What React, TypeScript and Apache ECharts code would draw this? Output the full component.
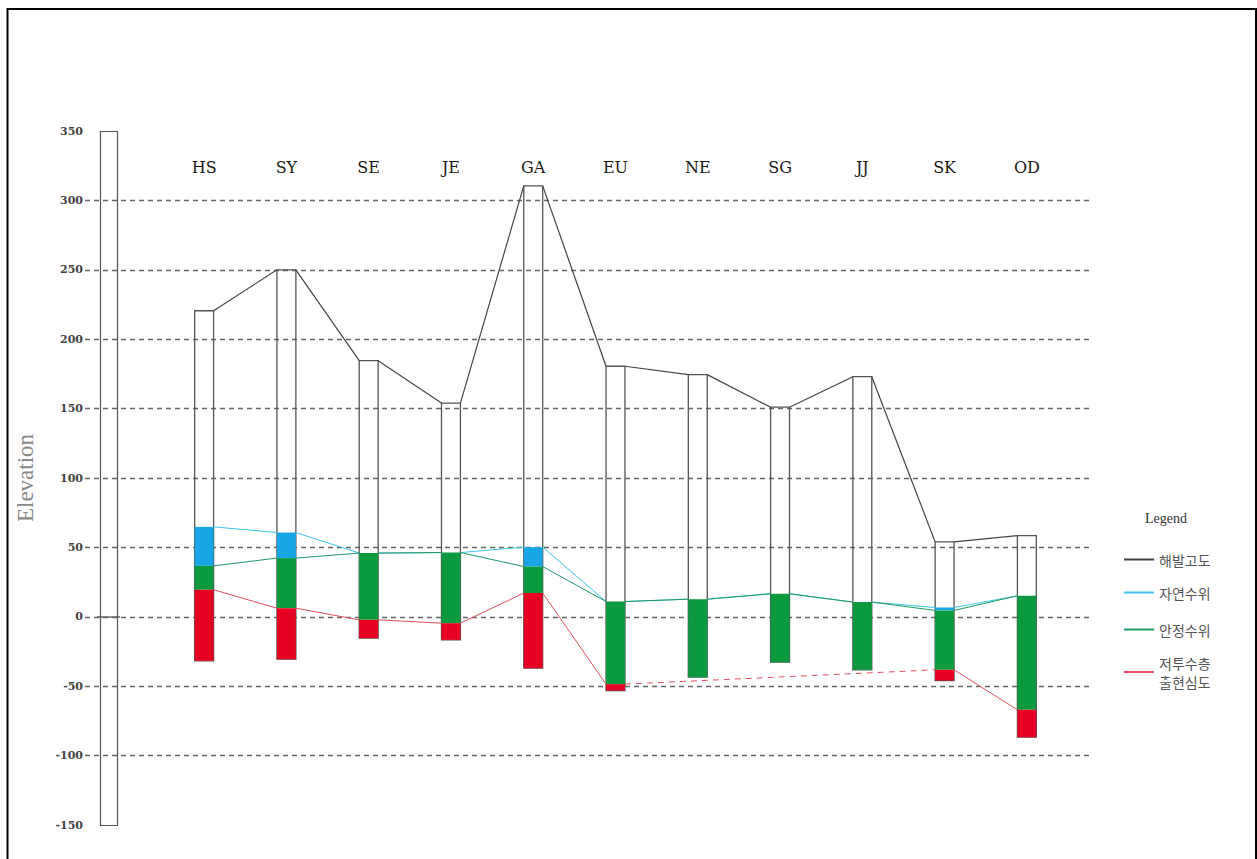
import React, { useEffect, useRef } from "react";
import * as echarts from "echarts";

const wells = ["HS", "SY", "SE", "JE", "GA", "EU", "NE", "SG", "JJ", "SK", "OD"];
// 해발고도 (ground elevation, top of each well column)
const elevation = [220.5, 250, 184.5, 154, 310.5, 180.5, 174.5, 151, 173, 54, 58.5];
// 자연수위 (natural water level)
const naturalLevel = [64.8, 60.7, 45.9, 46.3, 50.2, 11, 12.7, 16.6, 10.6, 6.7, 15.1];
// 안정수위 (stable water level)
const stableLevel = [36.7, 42.3, 45.9, 46.3, 36.2, 11, 12.7, 16.6, 10.6, 4.6, 15.1];
// 저투수층 출현심도 (depth where low-permeability layer appears)
const lowPermDepth: (number | null)[] = [19.5, 6.2, -2.2, -4.6, 17.1, -48.5, null, null, null, -38.2, -67];
// well bottom
const wellBottom = [-31.7, -30.5, -15.4, -16.6, -37, -53.1, -43.5, -32.7, -38.2, -45.9, -86.7];

const yMin = -150;
const yMax = 350;
const yInterval = 50;

const BLUE = "#18a6e6";
const GREEN = "#0b9a3e";
const RED = "#e60022";

const NAME_ELEV = "해발고도";
const NAME_NAT = "자연수위";
const NAME_STB = "안정수위";
const NAME_LOW = "저투수층\n출현심도";

export default function App() {
  const ref = useRef<HTMLDivElement>(null);
  useEffect(() => {
    document.body.style.margin = "0";
    const chart = echarts.init(ref.current!, null, { renderer: "svg" });

    const barFrac = 0.23;

    const lineSeries = (name: string, values: (number | null)[], color: string, width: number) => ({
      type: "custom",
      name,
      xAxisIndex: 1,
      yAxisIndex: 1,
      z: 4,
      itemStyle: { color },
      encode: { x: 0, y: 1 },
      data: values.map((v, i) => [i, v == null ? "-" : v]),
      renderItem: (params: any, api: any) => {
        const i = params.dataIndex;
        const v = values[i];
        if (v == null) return null;
        let j = i + 1;
        while (j < values.length && values[j] == null) j++;
        if (j >= values.length) return null;
        const w = api.size([1, 0])[0] * barFrac;
        const p1 = api.coord([i, v]);
        const p2 = api.coord([j, values[j] as number]);
        return {
          type: "line",
          shape: { x1: p1[0] + w / 2, y1: p1[1], x2: p2[0] - w / 2, y2: p2[1] },
          style: {
            stroke: color,
            lineWidth: width,
            lineDash: j > i + 1 ? [6, 5] : null,
          },
        };
      },
    });

    const legendBase = {
      orient: "vertical",
      left: 1124,
      padding: 0,
      icon: "rect",
      itemWidth: 30,
      itemHeight: 2,
      selectedMode: false,
      textStyle: {
        fontFamily: "Noto Sans CJK KR",
        fontSize: 14,
        color: "#555",
        lineHeight: 19,
      },
    };

    const option: any = {
      animation: false,
      backgroundColor: "#ffffff",
      grid: [
        { left: 85, right: 164, top: 131, bottom: 34 },
        { left: 163, right: 189, top: 131, bottom: 34 },
      ],
      xAxis: [
        { type: "value", gridIndex: 0, show: false, min: 0, max: 1 },
        {
          type: "category",
          gridIndex: 1,
          data: wells,
          position: "top",
          offset: -46,
          axisLine: { show: false },
          axisTick: { show: false },
          axisLabel: {
            margin: 2,
            fontFamily: "DejaVu Serif",
            fontSize: 16,
            color: "#1a1a1a",
          },
        },
      ],
      yAxis: [
        {
          type: "value",
          gridIndex: 0,
          min: yMin,
          max: yMax,
          interval: yInterval,
          name: "Elevation",
          nameLocation: "middle",
          nameGap: 48,
          nameTextStyle: { fontFamily: "Liberation Serif", fontSize: 23, color: "#888" },
          axisLine: { show: false },
          axisTick: { show: false },
          axisLabel: {
            margin: 2,
            fontFamily: "DejaVu Serif",
            fontSize: 11,
            fontWeight: "bold",
            color: "#444",
          },
          splitLine: {
            show: true,
            showMinLine: false,
            showMaxLine: false,
            lineStyle: { color: "#666", type: [5, 4], width: 1.4 },
          },
        },
        {
          type: "value",
          gridIndex: 1,
          min: yMin,
          max: yMax,
          interval: yInterval,
          show: false,
          splitLine: { show: false },
        },
      ],
      legend: [
        { ...legendBase, top: 550, data: [NAME_ELEV] },
        { ...legendBase, top: 583, data: [NAME_NAT] },
        { ...legendBase, top: 620, data: [NAME_STB] },
        { ...legendBase, top: 653, data: [NAME_LOW] },
      ],
      graphic: [
        {
          type: "rect",
          shape: { x: 7.5, y: 9, width: 1248.5, height: 900 },
          style: { fill: "none", stroke: "#000", lineWidth: 2 },
          silent: true,
        },
        {
          type: "rect",
          shape: { x: 100.5, y: 131.5, width: 17, height: 694 },
          style: { fill: "none", stroke: "#555", lineWidth: 1.2 },
          silent: true,
        },
        {
          type: "line",
          shape: { x1: 97, y1: 617, x2: 120, y2: 617 },
          style: { stroke: "#444", lineWidth: 1.2 },
          silent: true,
        },
        {
          type: "text",
          left: 1145,
          top: 511,
          style: { text: "Legend", font: '14px "Liberation Serif"', fill: "#333" },
          silent: true,
        },
      ],
      series: [
        {
          type: "custom",
          name: "wells",
          xAxisIndex: 1,
          yAxisIndex: 1,
          z: 3,
          encode: { x: 0, y: [1, 2] },
          data: wells.map((_, i) => [i, elevation[i], wellBottom[i]]),
          renderItem: (params: any, api: any) => {
            const i = params.dataIndex;
            const w = api.size([1, 0])[0] * barFrac;
            const x = api.coord([i, 0])[0] - w / 2;
            const yOf = (v: number) => api.coord([i, v])[1];
            const rect = (top: number, bot: number, style: any) => ({
              type: "rect",
              shape: { x, y: yOf(top), width: w, height: yOf(bot) - yOf(top) },
              style,
            });
            const children: any[] = [];
            children.push(rect(elevation[i], wellBottom[i], { fill: "none", stroke: "#555", lineWidth: 1.3 }));
            if (naturalLevel[i] > stableLevel[i]) {
              children.push(rect(naturalLevel[i], stableLevel[i], { fill: BLUE }));
            }
            const lp = lowPermDepth[i];
            const gBot = lp == null ? wellBottom[i] : lp;
            children.push(rect(stableLevel[i], gBot, { fill: GREEN }));
            if (lp != null) children.push(rect(lp, wellBottom[i], { fill: RED }));
            return { type: "group", children };
          },
        },
        lineSeries(NAME_ELEV, elevation, "#444", 1.2),
        lineSeries(NAME_NAT, naturalLevel, "#3cc4ec", 1),
        lineSeries(NAME_STB, stableLevel, "#1f9a62", 1),
        lineSeries(NAME_LOW, lowPermDepth, "#e0505e", 1),
      ],
    };

    chart.setOption(option);
    return () => chart.dispose();
  }, []);
  return <div ref={ref} style={{ width: 1257, height: 859 }} />;
}
